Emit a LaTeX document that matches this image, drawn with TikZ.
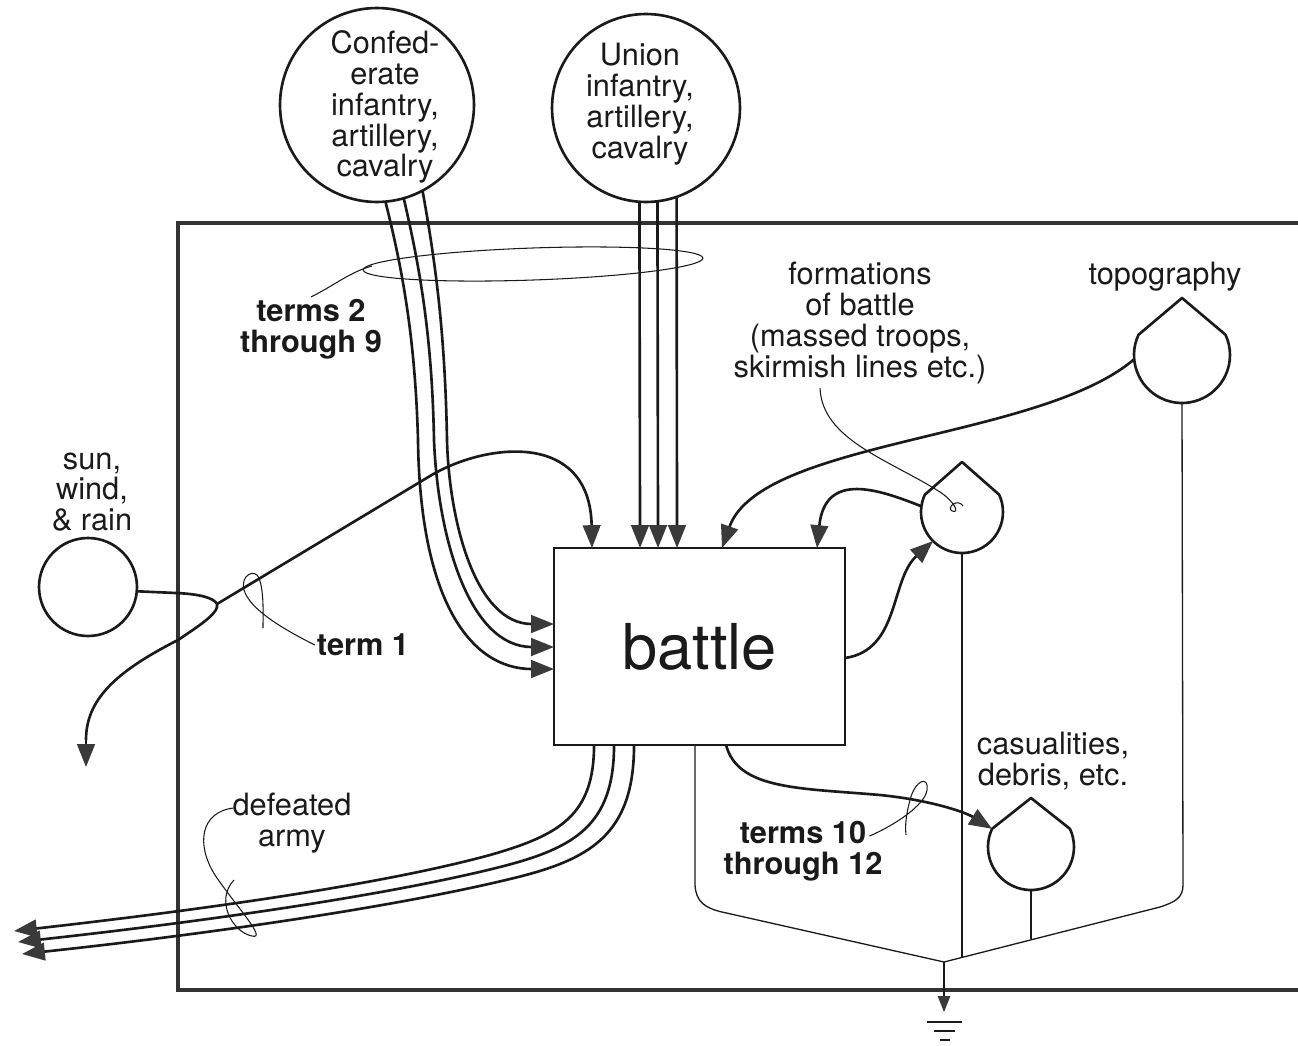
\documentclass[tikz,border=0pt]{standalone}
\usepackage{fontspec}
\setmainfont{TeX Gyre Heros}
\usepackage{tikz}
\usetikzlibrary{arrows.meta, calc}
\definecolor{ink}{HTML}{1A1A1A}
\definecolor{tipgray}{HTML}{3A3A3A}
\definecolor{framegray}{HTML}{333333}

\begin{document}
\begin{tikzpicture}[x=0.02cm, y=-0.02cm,
  lbl/.style={font=\fontsize{17.5}{17.6}\selectfont, align=center, text=ink, inner sep=1pt},
  boldlbl/.style={font=\fontsize{17.5}{17.6}\selectfont\bfseries, align=center, text=ink, inner sep=1pt},
  source/.style={circle, draw=ink, line width=1.5pt, outer sep=0pt, inner sep=0pt},
  tankspot/.style={circle, outer sep=0pt, inner sep=0pt},
  tankline/.style={draw=ink, line width=1.5pt, line join=round},
  flow/.style={draw=ink, line width=1.5pt, -{Triangle[length=13pt, width=10pt, color=tipgray]}},
  plain/.style={draw=ink, line width=1.5pt},
  sinkline/.style={draw=ink, line width=0.75pt},
  lead/.style={draw=ink, line width=0.6pt},
  frame/.style={draw=framegray, line width=2.8pt}]
\useasboundingbox (0,0) rectangle (1298,1045);
\draw[frame] (1310,223) -- (178,223) -- (178,990) -- (1310,990);

\node[draw=ink, line width=1.5pt, outer sep=0pt, minimum width=5.82cm, minimum height=3.94cm,
  font=\fontsize{36}{40}\selectfont, text=ink] (battle) at (699.5,646.5) {battle};

\node[source, minimum size=3.88cm] (conf) at (377,105) {};
\node[lbl] (conftext) at (385,107) {Confed-\\erate\\infantry,\\artillery,\\cavalry};
\node[source, minimum size=3.76cm] (union) at (646,108) {};
\node[lbl] (uniontext) at (640,104) {Union\\infantry,\\artillery,\\cavalry};
\node[source, minimum size=1.96cm] (sun) at (88,587) {};
\node[lbl] (sunlabel) at (92,492) {sun,\\wind,\\\& rain};

\node[tankspot, minimum size=1.92cm] (topo) at (1182,355) {};
\draw[tankline] (topo.25) -- ($(topo.center)+(0,-57)$) -- (topo.155) arc[start angle=155, end angle=385, radius=0.96cm];
\node[lbl] (topolabel) at (1165,277) {topography};
\node[tankspot, minimum size=1.64cm] (form) at (962,512) {};
\draw[tankline] (form.25) -- ($(form.center)+(0,-50)$) -- (form.155) arc[start angle=155, end angle=385, radius=0.82cm];
\node[lbl] (formlabel) at (860,323) {formations\\of battle\\(massed troops,\\skirmish lines etc.)};
\node[tankspot, minimum size=1.72cm] (casu) at (1031,847) {};
\draw[tankline] (casu.25) -- ($(casu.center)+(0,-49)$) -- (casu.155) arc[start angle=155, end angle=385, radius=0.86cm];
\node[lbl] (casulabel) at (1053,761) {casualities,\\debris, etc.};

\node[boldlbl] (terms29) at (311,329) {terms 2\\through 9};
\node[boldlbl] (term1) at (363,645) {term 1};
\node[boldlbl] (terms1012) at (803,851) {terms 10\\through 12};
\node[lbl] (defeated) at (292,823) {defeated\\army};

\draw[flow] (conf.-85) .. controls (400,260) and (415,330) .. (418,440) .. controls (420,600) and (470,669) .. ($(battle.north west)+(0,121)$);
\draw[flow] (conf.-74) .. controls (418,260) and (432,330) .. (434,440) .. controls (438,540) and (470,647) .. ($(battle.north west)+(0,99)$);
\draw[flow] (conf.-62) .. controls (435,260) and (445,330) .. (447,440) .. controls (449,520) and (475,624) .. ($(battle.north west)+(0,76)$);
\draw[flow] (union.-94) -- ($(battle.north west)+(86,0)$);
\draw[flow] (union.-83) -- ($(battle.north west)+(104,0)$);
\draw[flow] (union.-71) -- ($(battle.north west)+(123,0)$);
\draw[lead] (terms29.north) .. controls (335,285) and (350,272) .. (372,266);
\draw[lead, rotate around={2:(533,264)}] (533,264) ellipse [x radius=170, y radius=16];

\coordinate (split) at (217,604);
\coordinate (sunexit) at (86,767);
\draw[plain] (sun.-5) -- (176,593) .. controls (200,594) and (214,598) .. (split) .. controls (219,612) and (205,622) .. (178,640) .. controls (115,672) and (86,700) .. (86,740);
\draw[flow] (86,740) -- (sunexit);
\draw[flow] (split) -- (430,476) .. controls (485,443) and (590,430) .. ($(battle.north west)+(38,0)$);
\draw[lead] (term1.west) .. controls (285,630) and (250,610) .. (244,590) .. controls (240,575) and (255,568) .. (259,578) .. controls (264,592) and (263,610) .. (263,628);

\draw[flow] (topo.185) .. controls (1040,440) and (760,440) .. ($(battle.north west)+(168,0)$);
\draw[flow] (form.172) .. controls (880,490) and (825,470) .. ($(battle.north west)+(263,0)$);
\draw[flow] ($(battle.north east)+(0,110)$) .. controls (900,650) and (890,580) .. (form.225);
\draw[lead] ($(formlabel.south)+(-40,2)$) .. controls (822,440) and (890,460) .. (940,492) .. controls (955,502) and (960,514) .. (952,511) .. controls (946,507) and (958,498) .. (963,506);

\draw[flow] ($(battle.south west)+(172,0)$) .. controls (738,790) and (800,788) .. (880,795) .. controls (930,800) and (965,812) .. (casu.155);
\draw[lead] ($(terms1012.east)+(-15,-15)$) .. controls (895,825) and (925,805) .. (927,790) .. controls (929,775) and (915,780) .. (910,800) .. controls (906,815) and (905,825) .. (906,835);

\draw[flow] ($(battle.south west)+(40,0)$) .. controls (594,815) and (560,835) .. (490,855) .. controls (380,885) and (200,910) .. (14,931);
\draw[flow] ($(battle.south west)+(60,0)$) .. controls (614,825) and (575,848) .. (500,867) .. controls (385,896) and (200,922) .. (18,942);
\draw[flow] ($(battle.south west)+(80,0)$) .. controls (634,835) and (590,860) .. (510,879) .. controls (390,908) and (200,935) .. (22,954);
\draw[lead] ($(defeated.west)+(3,-15)$) .. controls (200,812) and (196,845) .. (215,875) .. controls (235,905) and (268,940) .. (252,936) .. controls (232,932) and (215,900) .. (234,880);

\coordinate (sink) at (944,962);
\coordinate (earth) at (944,1012);
\draw[sinkline] ($(battle.south west)+(141,0)$) -- (695,885) .. controls (696,902) and (705,908) .. (722,912) -- (sink);
\draw[sinkline] (topo.south) -- (1183,885) .. controls (1183,898) and (1175,902) .. (1160,907) -- (sink);
\draw[sinkline] (form.south) -- (962,957);
\draw[sinkline] (casu.south) -- (1031,939);
\draw[sinkline, -{Triangle[length=9pt, width=7pt, color=tipgray]}] (sink) -- (earth);
\draw[sinkline] (927,1022) -- (962,1022) (934,1031) -- (955,1031) (940,1040) -- (950,1040);
\end{tikzpicture}
\end{document}
